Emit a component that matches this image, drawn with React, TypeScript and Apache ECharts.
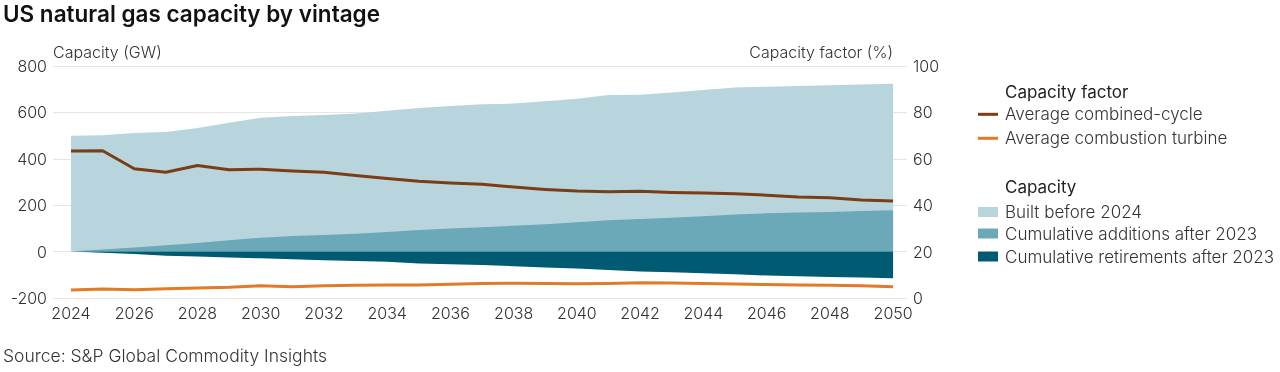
import React, { useEffect, useRef } from "react";
import * as echarts from "echarts";

const years = [2024, 2025, 2026, 2027, 2028, 2029, 2030, 2031, 2032, 2033, 2034, 2035, 2036, 2037, 2038, 2039, 2040, 2041, 2042, 2043, 2044, 2045, 2046, 2047, 2048, 2049, 2050];
const xTickLabels = [2024, 2026, 2028, 2030, 2032, 2034, 2036, 2038, 2040, 2042, 2044, 2046, 2048, 2050];

// Capacity (GW)
const builtBefore2024 = [499, 502, 511, 516, 533, 555, 577, 584, 589, 595, 607, 619, 628, 635, 638, 648, 659, 675, 676, 686, 697, 707, 711, 714, 717, 720, 724];
const cumulativeAdditions = [0, 9, 18, 27, 37, 49, 60, 67, 72, 77, 85, 93, 100, 105, 111, 118, 126, 135, 140, 146, 152, 160, 165, 168, 171, 175, 178];
const cumulativeRetirements = [0, -5, -10, -18, -21, -25, -29, -33, -37, -41, -44, -51, -55, -58, -63, -68, -73, -79, -86, -89, -93, -98, -103, -106, -109, -112, -115];

// Capacity factor (%)
const combinedCycle = [63.4, 63.5, 55.7, 54.2, 57.1, 55.3, 55.5, 54.7, 54.2, 52.8, 51.5, 50.3, 49.6, 49.0, 47.8, 46.8, 46.1, 45.8, 46.0, 45.5, 45.3, 44.9, 44.3, 43.5, 43.2, 42.2, 41.8];
const combustionTurbine = [3.4, 3.9, 3.6, 4.0, 4.3, 4.6, 5.3, 4.8, 5.3, 5.5, 5.6, 5.6, 5.9, 6.3, 6.4, 6.3, 6.1, 6.3, 6.6, 6.5, 6.3, 6.0, 5.8, 5.6, 5.5, 5.3, 4.9];

const leftTicks = { min: -200, max: 800, interval: 200 };
const rightTicks = { min: 0, max: 100, interval: 20 };

const FONT = "Inter, Roboto, sans-serif";
const TEXT = "#333333";

const C_LIGHT = "#b8d5de";
const C_MID = "#6ba8b8";
const C_DARK = "#005a71";
const C_BROWN = "#7a3d15";
const C_ORANGE = "#e27a27";

const pairs = (vals: number[]) => years.map((y, i) => [y, vals[i]]);

export default function App() {
  const ref = useRef<HTMLDivElement>(null);
  useEffect(() => {
    if (!ref.current) return;
    const chart = echarts.init(ref.current, undefined, { renderer: "svg" });
    const areaSeries = (name: string, vals: number[], color: string) => ({
      name,
      type: "line",
      data: pairs(vals),
      xAxisIndex: 0,
      yAxisIndex: 0,
      showSymbol: false,
      symbol: "none",
      lineStyle: { width: 0, color },
      itemStyle: { color },
      areaStyle: { color, opacity: 1 },
      emphasis: { disabled: true },
    });
    const lineSeries = (name: string, vals: number[], color: string) => ({
      name,
      type: "line",
      data: pairs(vals),
      xAxisIndex: 0,
      yAxisIndex: 1,
      showSymbol: false,
      symbol: "none",
      lineStyle: { width: 3, color, join: "round" },
      itemStyle: { color },
      emphasis: { disabled: true },
    });
    const legendItem = (name: string, top: number, h: number) => ({
      data: [name],
      left: 978,
      top,
      orient: "vertical",
      icon: "rect",
      itemWidth: 20,
      itemHeight: h,
      padding: 0,
      selectedMode: false,
      textStyle: { fontFamily: FONT, fontSize: 17, fontWeight: 300, color: TEXT, lineHeight: 20, padding: [0, 0, 0, 2] },
    });
    const text = (t: string, x: number, y: number, size: number, weight: any, align: string, color = TEXT) => ({
      type: "text",
      x,
      y,
      style: {
        text: t,
        fill: color,
        font: `${weight} ${size}px ${FONT}`,
        align,
        verticalAlign: "middle",
      },
    });
    const axisLabelStyle = { fontFamily: FONT, fontSize: 16, fontWeight: 300, color: TEXT };
    chart.setOption({
      animation: false,
      grid: { left: 53, right: 373, top: 66, height: 232, containLabel: false },
      xAxis: {
        type: "value",
        min: 2023.43,
        max: 2050.44,
        axisLine: { show: false },
        axisTick: { show: false },
        splitLine: { show: false },
        axisLabel: {
          customValues: xTickLabels,
          formatter: (v: number) => String(v),
          ...axisLabelStyle,
          margin: 7,
        },
      },
      yAxis: [
        {
          type: "value",
          ...leftTicks,
          axisLine: { show: false },
          axisTick: { show: false },
          splitLine: { lineStyle: { color: "#e6e6e6", width: 1 } },
          axisLabel: { ...axisLabelStyle, margin: 6 },
        },
        {
          type: "value",
          position: "right",
          ...rightTicks,
          axisLine: { show: false },
          axisTick: { show: false },
          splitLine: { show: false },
          axisLabel: { ...axisLabelStyle, margin: 6 },
        },
      ],
      legend: [
        legendItem("Average combined-cycle", 104.3, 3),
        legendItem("Average combustion turbine", 128.3, 3),
        legendItem("Built before 2024", 202, 10),
        legendItem("Cumulative additions after 2023", 223.5, 10),
        legendItem("Cumulative retirements after 2023", 246.5, 10),
      ],
      graphic: [
        text("US natural gas capacity by vintage", 3, 13, 22.5, 600, "left", "#111111"),
        text("Capacity (GW)", 53, 52, 16, 300, "left"),
        text("Capacity factor (%)", 893, 52, 16, 300, "right"),
        text("Capacity factor", 1005, 92, 17, 400, "left", "#222222"),
        text("Capacity", 1005, 186.5, 17, 400, "left", "#222222"),
        text("Source: S&P Global Commodity Insights", 3, 355, 17.5, 300, "left"),
      ],
      series: [
        areaSeries("Built before 2024", builtBefore2024, C_LIGHT),
        areaSeries("Cumulative additions after 2023", cumulativeAdditions, C_MID),
        areaSeries("Cumulative retirements after 2023", cumulativeRetirements, C_DARK),
        lineSeries("Average combined-cycle", combinedCycle, C_BROWN),
        lineSeries("Average combustion turbine", combustionTurbine, C_ORANGE),
      ],
    });
    return () => chart.dispose();
  }, []);
  return <div ref={ref} style={{ position: "fixed", left: 0, top: 0, width: 1280, height: 372 }} />;
}
